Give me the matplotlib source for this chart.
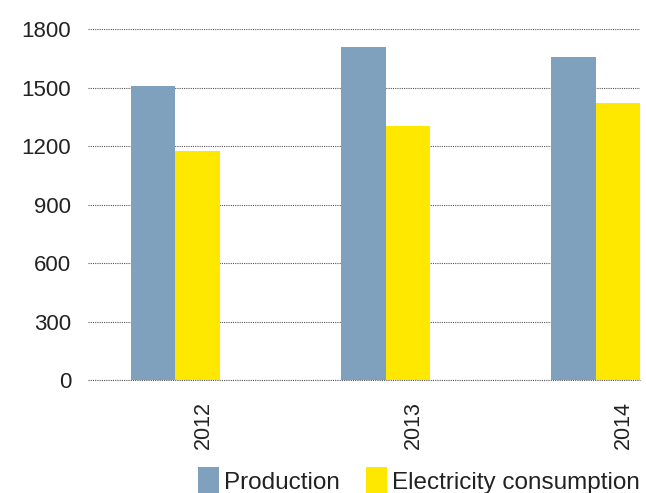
import numpy as np
import matplotlib.pyplot as plt

# данные
years = ['2012', '2013', '2014']
production = [1510, 1708, 1655]
consumption = [1175, 1302, 1420]

plt.rcParams['font.family'] = ['Liberation Sans', 'DejaVu Sans']

fig = plt.figure(figsize=(6.46, 4.93), dpi=100)
ax = fig.add_axes([0.136, 0.229, 0.855, 0.712])

x = np.arange(len(years))
w = 0.212
ax.bar(x, production, w, align='edge', color='#7fa1be', label='Production', zorder=2)
ax.bar(x + w, consumption, w, align='edge', color='#ffe800', label='Electricity consumption', zorder=2)

ax.set_ylim(0, 1800)
ax.set_xlim(-0.205, 2 + 2 * w)
ax.set_yticks([0, 300, 600, 900, 1200, 1500, 1800])
ax.grid(axis='y', linestyle=(0, (1, 1)), color='#555555', linewidth=0.8, zorder=0)
ax.axhline(0, linestyle=(0, (1, 1)), color='#555555', linewidth=0.8, zorder=3, clip_on=False)
ax.set_xticks(x + 0.343)
ax.set_xticklabels(years, rotation=90)
ax.tick_params(axis='x', length=0, pad=15, labelsize=15.5, labelcolor='#222222')
ax.tick_params(axis='y', length=0, pad=12, labelsize=16, labelcolor='#222222')
for s in ax.spines.values():
    s.set_visible(False)

fig.legend(loc='lower right', bbox_to_anchor=(1.024, -0.047), ncol=2, frameon=False,
           fontsize=17.5, handlelength=0.85, handleheight=1.35, handletextpad=0.2,
           columnspacing=1.1, labelcolor='#222222')

fig.savefig('out.png', dpi=100)
